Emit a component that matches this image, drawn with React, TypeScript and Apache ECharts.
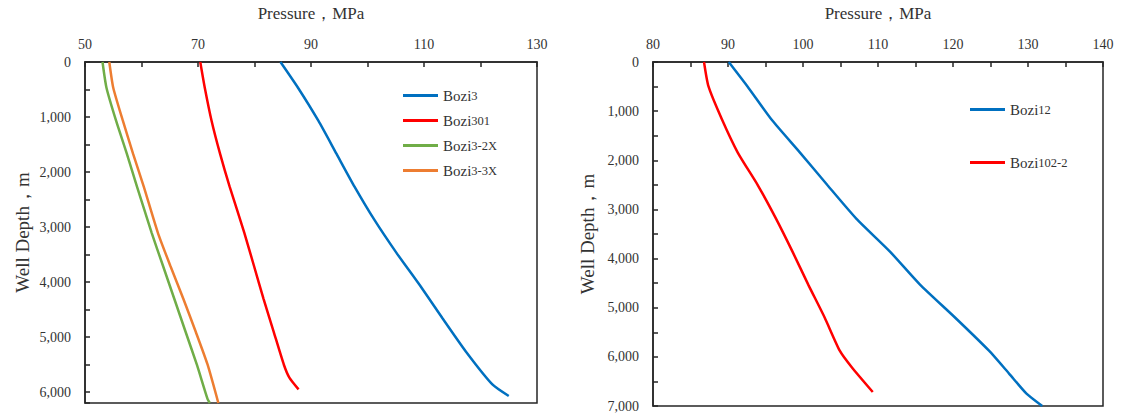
import React, { useEffect, useRef } from "react";
import * as echarts from "echarts";

// ---- data (pressure MPa vs depth m) ----
const bozi3Depth = [0, 468, 1068, 1667, 2266, 2867, 3466, 4065, 4665, 5264, 5863, 6074];
const bozi3Pressure = [84.6, 87.7, 91.3, 94.5, 97.7, 101.2, 105.1, 109.3, 113.3, 117.4, 122.1, 125.0];

const bozi301Depth = [0, 468, 1068, 1667, 2266, 3106, 3705, 4305, 4905, 5504, 5744, 5953];
const bozi301Pressure = [70.4, 71.2, 72.4, 73.9, 75.6, 78.2, 79.9, 81.6, 83.4, 85.2, 86.2, 87.8];

const bozi32XDepth = [0, 468, 1068, 1667, 2266, 3106, 3705, 4305, 4905, 5504, 6130, 6200];
const bozi32XPressure = [53.1, 53.8, 55.5, 57.4, 59.2, 61.8, 63.8, 65.8, 67.8, 69.8, 71.7, 72.1];

const bozi33XDepth = [0, 468, 1068, 1667, 2266, 3106, 3705, 4305, 4905, 5504, 6200];
const bozi33XPressure = [54.3, 55.0, 56.7, 58.5, 60.4, 62.9, 65.1, 67.4, 69.6, 71.7, 73.6];

const bozi12Depth = [0, 498, 1171, 1843, 2514, 3187, 3859, 4530, 5204, 5875, 6345, 6748, 7000];
const bozi12Pressure = [90.1, 92.6, 95.8, 99.6, 103.3, 107.1, 111.6, 115.6, 120.3, 124.8, 127.5, 129.8, 131.9];

const bozi1022Depth = [0, 498, 1171, 1843, 2514, 3187, 3859, 4530, 5204, 5875, 6212, 6716];
const bozi1022Pressure = [86.8, 87.4, 89.2, 91.3, 94.0, 96.4, 98.6, 100.7, 102.9, 104.9, 106.5, 109.3];

const leftNames = ["Bozi3", "Bozi301", "Bozi3-2X", "Bozi3-3X"];
const rightNames = ["Bozi12", "Bozi102-2"];

const xAxisName = "Pressure，MPa";
const yAxisName = "Well Depth，m";

const pairs = (p: number[], d: number[]) => p.map((v, i) => [v, d[i]]);

const FONT = "Liberation Serif, serif";
const AXIS_COLOR = "#262626";
const TEXT_COLOR = "#333";

const legendFormatter = (name: string) => `{a|Bozi}{b|${name.slice(4)}}`;
const legendRich = {
  a: { fontFamily: FONT, fontSize: 15, color: TEXT_COLOR },
  b: { fontFamily: FONT, fontSize: 12.5, color: TEXT_COLOR },
};

function xAxisCfg(gridIndex: number, min: number, max: number, interval: number, labelStep: number) {
  return {
    type: "value",
    gridIndex,
    position: "top",
    min,
    max,
    interval,
    name: xAxisName,
    nameLocation: "middle",
    nameGap: 40,
    nameTextStyle: { fontFamily: FONT, fontSize: 17, color: TEXT_COLOR },
    axisLine: { show: true, lineStyle: { color: AXIS_COLOR, width: 1.5 } },
    axisTick: { show: true, inside: true, length: 5, lineStyle: { color: AXIS_COLOR, width: 1.5 } },
    axisLabel: {
      margin: 11,
      fontFamily: FONT,
      fontSize: 14,
      color: TEXT_COLOR,
      formatter: (v: number) => (Math.abs((v - min) % labelStep) < 1e-6 ? String(v) : ""),
    },
    splitLine: { show: false },
  };
}

function yAxisCfg(gridIndex: number, max: number, nameGap: number) {
  return {
    type: "value",
    gridIndex,
    inverse: true,
    min: 0,
    max,
    interval: 500,
    name: yAxisName,
    nameLocation: "middle",
    nameRotate: 90,
    nameGap,
    nameTextStyle: { fontFamily: FONT, fontSize: 19, color: TEXT_COLOR },
    axisLine: { show: true, lineStyle: { color: AXIS_COLOR, width: 1.5 } },
    axisTick: { show: true, inside: true, length: 5, lineStyle: { color: AXIS_COLOR, width: 1.5 } },
    axisLabel: {
      margin: 14,
      fontFamily: FONT,
      fontSize: 14,
      color: TEXT_COLOR,
      formatter: (v: number) => (v % 1000 === 0 ? v.toLocaleString("en-US") : ""),
    },
    splitLine: { show: false },
  };
}

function lineSeries(name: string, data: number[][], color: string, idx: number) {
  return {
    name,
    type: "line",
    xAxisIndex: idx,
    yAxisIndex: idx,
    data,
    smooth: 0.2,
    symbol: "none",
    lineStyle: { color, width: 2.5 },
    itemStyle: { color },
    clip: true,
  };
}

export default function App() {
  const ref = useRef<HTMLDivElement>(null);
  useEffect(() => {
    if (!ref.current) return;
    const chart = echarts.init(ref.current, null, { renderer: "svg" });
    const legendBase = {
      orient: "vertical",
      icon: "rect",
      itemWidth: 35,
      itemHeight: 3,
      formatter: legendFormatter,
      textStyle: { rich: legendRich },
    };
    chart.setOption({
      animation: false,
      backgroundColor: "#fff",
      grid: [
        { left: 85, top: 58, width: 452, height: 345, show: true, borderColor: AXIS_COLOR, borderWidth: 1.5, backgroundColor: "transparent" },
        { left: 653, top: 59, width: 450, height: 347, show: true, borderColor: AXIS_COLOR, borderWidth: 1.5, backgroundColor: "transparent" },
      ],
      xAxis: [xAxisCfg(0, 50, 130, 10, 20), xAxisCfg(1, 80, 140, 5, 10)],
      yAxis: [yAxisCfg(0, 6200, 53), yAxisCfg(1, 7000, 56)],
      legend: [
        { ...legendBase, data: leftNames, left: 398, top: 83, itemGap: 10 },
        { ...legendBase, data: rightNames, left: 965, top: 97, itemGap: 38 },
      ],
      series: [
        lineSeries("Bozi3", pairs(bozi3Pressure, bozi3Depth), "#0070C0", 0),
        lineSeries("Bozi301", pairs(bozi301Pressure, bozi301Depth), "#FF0000", 0),
        lineSeries("Bozi3-2X", pairs(bozi32XPressure, bozi32XDepth), "#70AD47", 0),
        lineSeries("Bozi3-3X", pairs(bozi33XPressure, bozi33XDepth), "#ED7D31", 0),
        lineSeries("Bozi12", pairs(bozi12Pressure, bozi12Depth), "#0070C0", 1),
        lineSeries("Bozi102-2", pairs(bozi1022Pressure, bozi1022Depth), "#FF0000", 1),
      ],
    });
    return () => chart.dispose();
  }, []);
  return (
    <div
      ref={ref}
      style={{ position: "fixed", left: 0, top: 0, width: 1123, height: 417, background: "#fff" }}
    />
  );
}
